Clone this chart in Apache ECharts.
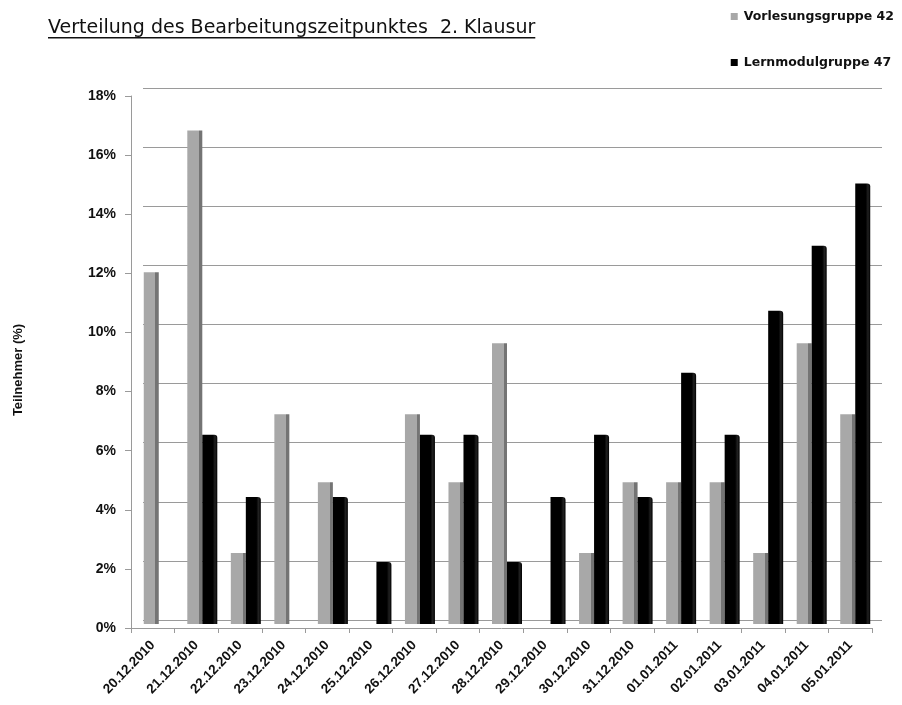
<!DOCTYPE html>
<html>
<head>
<meta charset="utf-8">
<script src="https://cdn.jsdelivr.net/npm/echarts@6/dist/echarts.min.js"></script>
<style>html,body{margin:0;padding:0;background:#fff;}#c{width:902px;height:705px;}</style>
</head>
<body>
<div id="c"></div>
<script>
const categories = ['20.12.2010','21.12.2010','22.12.2010','23.12.2010','24.12.2010','25.12.2010','26.12.2010','27.12.2010','28.12.2010','29.12.2010','30.12.2010','31.12.2010','01.01.2011','02.01.2011','03.01.2011','04.01.2011','05.01.2011'];
const vorlesung = [11.9, 16.7, 2.4, 7.1, 4.8, 0, 7.1, 4.8, 9.5, 0, 2.4, 4.8, 4.8, 4.8, 2.4, 9.5, 7.1];
const lernmodul = [0, 6.4, 4.3, 0, 4.3, 2.1, 6.4, 6.4, 2.1, 4.3, 6.4, 4.3, 8.5, 6.4, 10.6, 12.8, 14.9];
const seriesNames = ['Vorlesungsgruppe 42', 'Lernmodulgruppe 47'];
const titleText = 'Verteilung des Bearbeitungszeitpunktes  2. Klausur';

const FONT = "'DejaVu Sans', sans-serif";
const AXFONT = "'Liberation Sans', sans-serif";
const chart = echarts.init(document.getElementById('c'), null, {renderer: 'canvas'});

const TSIZE = 19;
const ctx = document.createElement('canvas').getContext('2d');
ctx.font = TSIZE + "px " + FONT;
const tw = ctx.measureText(titleText).width;

const grayFill = new echarts.graphic.LinearGradient(0,0,1,0,[
  {offset:0,color:'#a8a8a8'},{offset:0.78,color:'#a8a8a8'},{offset:0.78,color:'#747474'},{offset:1,color:'#747474'}]);
const blackFill = new echarts.graphic.LinearGradient(0,0,1,0,[
  {offset:0,color:'#000'},{offset:0.7,color:'#000'},{offset:0.85,color:'#222'},{offset:1,color:'#000'}]);

const yBase = {type:'value', min:0, max:18, interval:2};
chart.setOption({
  animation:false,
  backgroundColor:'#fff',
  title:{text:titleText, left:48, top:19, padding:0, textStyle:{fontFamily:FONT, fontSize:TSIZE, fontWeight:'normal', color:'#111'}},
  graphic:[{type:'rect', shape:{x:48, y:37, width:tw, height:1.5}, style:{fill:'#111'}}],
  legend:{
    data:[{name:seriesNames[0], itemStyle:{color:'#a8a8a8'}},{name:seriesNames[1], itemStyle:{color:'#000'}}],
    orient:'vertical', right:3, top:5, itemGap:33,
    itemWidth:7, itemHeight:7, icon:'rect',
    textStyle:{fontFamily:FONT, fontSize:12.5, fontWeight:'bold', color:'#111', padding:[0,0,0,1]}
  },
  grid:[
    {left:131, right:30, top:96, bottom:77},
    {left:143, right:20, top:88, bottom:85},
    {left:137, right:25, top:92, bottom:81}
  ],
  xAxis:[
    {type:'category', gridIndex:0, data:categories,
     axisLine:{lineStyle:{color:'#9a9a9a'}}, axisTick:{show:true, length:5, lineStyle:{color:'#9a9a9a'}},
     axisLabel:{rotate:46, interval:0, fontFamily:AXFONT, fontSize:13.5, fontWeight:'bold', color:'#111', margin:15}},
    {type:'category', gridIndex:1, data:categories, show:false},
    {type:'category', gridIndex:2, data:categories, show:false}
  ],
  yAxis:[
    Object.assign({gridIndex:0, name:'Teilnehmer (%)', nameLocation:'middle', nameGap:106,
     nameTextStyle:{fontFamily:AXFONT, fontSize:13, fontWeight:'bold', color:'#111', padding:[0,0,0,-16]},
     axisLine:{show:true, lineStyle:{color:'#9a9a9a'}}, axisTick:{show:true, length:6, lineStyle:{color:'#9a9a9a'}},
     splitLine:{show:false},
     axisLabel:{formatter:'{value}%', fontFamily:AXFONT, fontSize:14, fontWeight:'bold', color:'#111', margin:15}}, yBase),
    Object.assign({gridIndex:1, axisLine:{show:false}, axisTick:{show:false}, axisLabel:{show:false},
     splitLine:{show:true, lineStyle:{color:'#9a9a9a', width:1.2}}}, yBase),
    Object.assign({gridIndex:2, show:false, splitLine:{show:false}}, yBase)
  ],
  series:[
    {name:seriesNames[0], type:'bar', xAxisIndex:2, yAxisIndex:2, data:vorlesung, barWidth:15, barGap:'0%',
     itemStyle:{color:grayFill}},
    {name:seriesNames[1], type:'bar', xAxisIndex:2, yAxisIndex:2, data:lernmodul, barWidth:15, barGap:'0%',
     itemStyle:{color:blackFill, borderRadius:[0,3,0,0]}}
  ]
});
</script>
</body>
</html>
